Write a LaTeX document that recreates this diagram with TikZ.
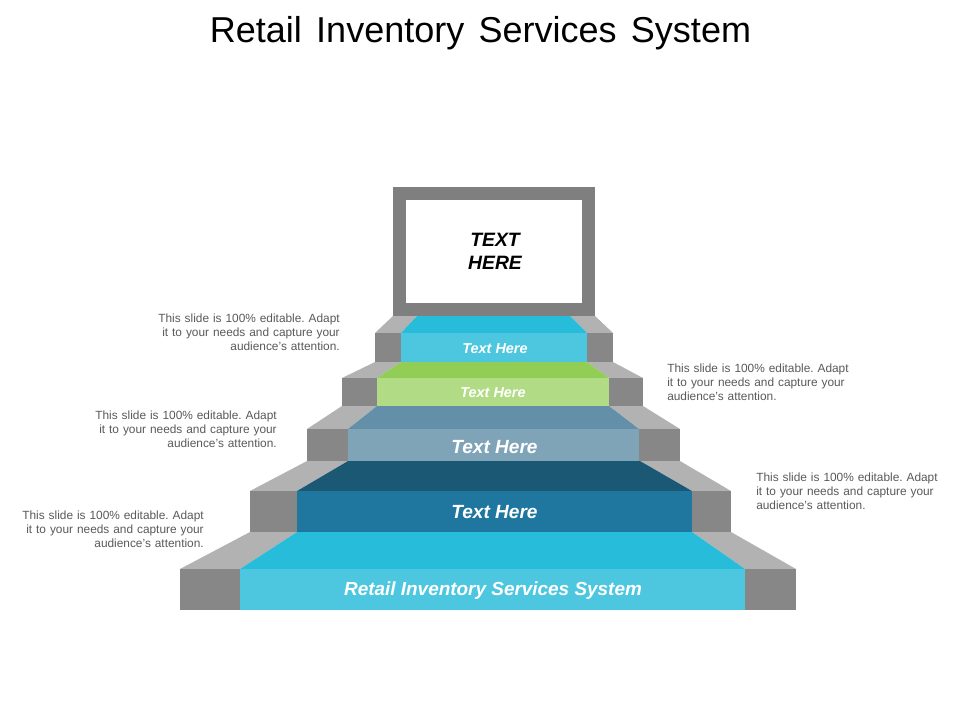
\documentclass[tikz,border=0pt]{standalone}
\usepackage{fontspec}
\setmainfont{Liberation Sans}
\definecolor{sidefront}{HTML}{878787}
\definecolor{sidetop}{HTML}{B2B2B2}
\definecolor{framegray}{HTML}{7F7F7F}
\definecolor{cyantop}{HTML}{27BCD9}
\definecolor{cyanfront}{HTML}{4DC6E0}
\definecolor{navytop}{HTML}{1A5874}
\definecolor{navyfront}{HTML}{1F769F}
\definecolor{slatetop}{HTML}{6390A8}
\definecolor{slatefront}{HTML}{7FA4B8}
\definecolor{greentop}{HTML}{92CD55}
\definecolor{greenfront}{HTML}{B1DC85}
\definecolor{desc}{HTML}{595959}
\frenchspacing
\tikzset{
  stepface/.style={fill=#1,draw=none},
  steplabel/.style={text=white,font=\fontsize{#1}{#1}\selectfont\bfseries\itshape,inner sep=0pt,anchor=center},
  desctext/.style={text=desc,font=\fontsize{8.9}{10.5}\selectfont,inner sep=0pt,align=#1,text width=186bp},
}
\newcommand{\stair}[9]{\def\ya{#1}\def\yb{#2}\def\yc{#3}\def\ta{#4}\def\tb{#5}\def\tc{#6}\def\td{#7}\def\fa{#8}\def\fb{#9}\stairrest}
\newcommand{\stairrest}[4]{%
  \fill[stepface=sidetop] (\ta,\ya) -- (\tb,\ya) -- (\fb,\yb) -- (\fa,\yb) -- cycle;
  \fill[stepface=sidetop] (\tc,\ya) -- (\td,\ya) -- (#2,\yb) -- (#1,\yb) -- cycle;
  \fill[stepface=#3] (\tb,\ya) -- (\tc,\ya) -- (#1,\yb) -- (\fb,\yb) -- cycle;
  \fill[stepface=sidefront] (\fa,\yb) rectangle (\fb,\yc);
  \fill[stepface=sidefront] (#1,\yb) rectangle (#2,\yc);
  \fill[stepface=#4] (\fb,\yb) rectangle (#1,\yc);
}
\begin{document}
\begin{tikzpicture}[x=0.75pt,y=-0.75pt]
\useasboundingbox (0,0) rectangle (960,720);
\stair{532}{569}{610}{250}{297}{692}{731}{180}{240}{745}{796}{cyantop}{cyanfront}
\stair{461}{491}{532}{307}{348}{640}{680}{250}{297}{692}{731}{navytop}{navyfront}
\stair{406}{429}{461}{342}{377}{609}{643}{307}{348}{639}{680}{slatetop}{slatefront}
\stair{362}{378}{406}{375}{401}{587}{613}{342}{377}{609}{643}{greentop}{greenfront}
\stair{316}{333}{362}{393}{417}{570}{595}{375}{401}{587}{613}{cyantop}{cyanfront}
\fill[framegray] (393,187) rectangle (595,316);
\fill[white] (406,200) rectangle (582,303);
\node[inner sep=0pt,align=center,font=\fontsize{14.5}{17}\selectfont\bfseries\itshape] (screen) at (495,251.5) {TEXT\\HERE};
\node[steplabel=10.8] (l5) at (495,348.5) {Text Here};
\node[steplabel=10.8] (l4) at (493,392.5) {Text Here};
\node[steplabel=14.3] (l3) at (494.5,447) {Text Here};
\node[steplabel=14.3] (l2) at (494.5,512) {Text Here};
\node[steplabel=14.2] (l1) at (493,590.5) {Retail Inventory Services System};
\node[font=\fontsize{27}{27}\selectfont,inner sep=0pt] (title) at (480.5,33.5) {Retail\hspace{.12em} Inventory\hspace{.12em} Services\hspace{.12em} System};
\node[desctext=right,anchor=east] (d1) at (340,332) {This slide is 100\% editable. Adapt\\it to your needs and capture your\\audience's attention.};
\node[desctext=left,anchor=west] (d2) at (667,382) {This slide is 100\% editable. Adapt\\it to your needs and capture your\\audience's attention.};
\node[desctext=right,anchor=east] (d3) at (277,429) {This slide is 100\% editable. Adapt\\it to your needs and capture your\\audience's attention.};
\node[desctext=left,anchor=west] (d4) at (756,491) {This slide is 100\% editable. Adapt\\it to your needs and capture your\\audience's attention.};
\node[desctext=right,anchor=east] (d5) at (204,529) {This slide is 100\% editable. Adapt\\it to your needs and capture your\\audience's attention.};
\end{tikzpicture}
\end{document}
